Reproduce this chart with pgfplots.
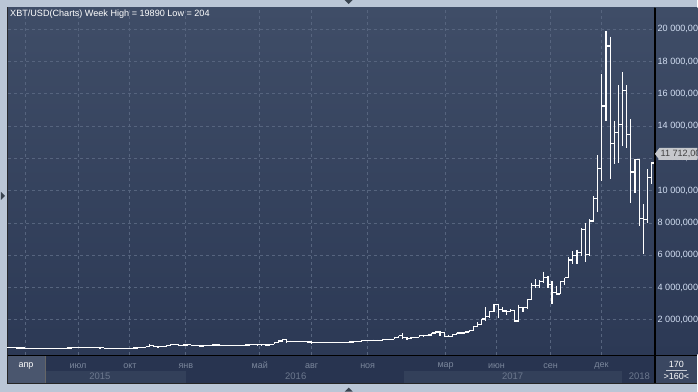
\documentclass[border=0pt]{standalone}
\usepackage{pgfplots}
\pgfplotsset{compat=1.18}
\usepackage{pgfplotstable}
\usetikzlibrary{backgrounds}
\usepackage{fontspec}
\setmainfont{Liberation Sans}
\definecolor{frame}{HTML}{BAC6D6}
\definecolor{plottop}{HTML}{3F4D67}
\definecolor{plotbot}{HTML}{2C3955}
\definecolor{band}{HTML}{283450}
\definecolor{bandlight}{HTML}{33405A}
\definecolor{aprcell}{HTML}{4A566E}
\definecolor{gridc}{HTML}{56647E}
\definecolor{monthc}{HTML}{7A869B}
\definecolor{yearc}{HTML}{6C788E}
\definecolor{labc}{HTML}{D4E0F4}
\definecolor{tagc}{HTML}{C6C8CC}
\definecolor{arrowc}{HTML}{3A4450}
\definecolor{cornerc}{HTML}{3A4761}

\pgfdeclareplotmark{ohlcL}{\pgfpathmoveto{\pgfqpoint{-2.1pt}{0pt}}\pgfpathlineto{\pgfqpoint{0pt}{0pt}}\pgfusepathqstroke}
\pgfdeclareplotmark{ohlcR}{\pgfpathmoveto{\pgfqpoint{0pt}{0pt}}\pgfpathlineto{\pgfqpoint{2.1pt}{0pt}}\pgfusepathqstroke}

\pgfplotstableread{
i o h l c
1 274 298 268 285
2 285 296 256 262
3 262 270 236 252
4 252 262 240 254
5 254 262 232 236
6 236 238 214 222
7 222 238 218 226
8 226 240 220 236
9 236 248 232 241
10 241 245 232 237
11 237 242 230 238
12 238 241 222 225
13 225 230 218 222
14 222 238 220 232
15 232 256 224 244
16 244 262 238 255
17 255 280 250 270
18 270 300 262 290
19 290 300 270 278
20 278 292 270 290
21 290 297 280 283
22 283 287 258 262
23 262 272 253 258
24 258 260 204 232
25 232 235 205 229
26 229 240 226 240
27 240 245 229 232
28 232 234 224 231
29 231 236 226 235
30 235 240 233 237
31 237 250 235 246
32 246 272 244 268
33 268 290 265 285
34 285 335 283 325
35 325 495 320 385
36 385 390 300 330
37 330 340 312 325
38 325 370 315 365
39 365 400 350 390
40 390 465 385 460
41 460 470 425 445
42 445 458 420 420
43 420 437 412 430
44 430 460 423 446
45 446 450 360 385
46 385 412 365 400
47 400 400 365 375
48 375 390 365 380
49 380 407 370 400
50 400 445 400 437
51 437 445 410 430
52 430 440 400 412
53 412 420 405 415
54 415 420 405 410
55 410 420 405 415
56 415 425 410 420
57 420 425 415 420
58 420 432 418 430
59 430 460 428 455
60 455 470 440 445
61 445 464 440 460
62 460 462 448 455
63 455 458 435 440
64 440 475 437 470
65 470 590 470 585
66 585 690 570 680
67 680 780 640 760
68 760 770 560 660
69 660 705 615 670
70 670 680 610 650
71 650 680 648 660
72 660 680 650 655
73 655 660 620 625
74 625 630 480 590
75 590 600 570 570
76 570 590 565 580
77 580 590 570 575
78 575 610 565 605
79 605 630 600 605
80 605 612 600 608
81 608 610 595 600
82 600 615 598 612
83 612 622 605 618
84 618 645 615 640
85 640 660 630 655
86 655 720 650 700
87 700 745 680 705
88 705 718 690 700
89 700 760 700 730
90 730 745 720 730
91 730 770 725 765
92 765 780 755 775
93 775 800 765 790
94 790 940 785 900
95 900 1000 880 1000
96 1000 1150 810 900
97 900 910 750 820
98 820 930 810 920
99 920 930 880 915
100 915 1030 915 1020
101 1020 1070 940 1000
102 1000 1060 990 1050
103 1050 1200 1050 1175
104 1175 1290 1150 1240
105 1240 1325 980 1230
106 1230 1250 950 960
107 960 1070 900 960
108 960 1100 940 1090
109 1090 1200 1090 1180
110 1180 1210 1160 1180
111 1180 1250 1170 1245
112 1245 1350 1240 1340
113 1340 1600 1330 1560
114 1560 1850 1550 1720
115 1720 2070 1700 2050
116 2050 2760 1900 2200
117 2200 2550 2100 2520
118 2520 2980 2500 2950
119 2950 3000 2120 2650
120 2650 2770 2480 2540
121 2540 2600 2300 2500
122 2500 2650 2470 2560
123 2560 2560 1840 1920
124 1920 2930 1900 2750
125 2750 2800 2500 2750
126 2750 3300 2650 3250
127 3250 4300 3240 4100
128 4100 4500 3950 4100
129 4100 4450 3950 4350
130 4350 4980 4300 4600
131 4600 4700 3950 4200
132 4200 4400 3000 3700
133 3700 4100 3550 3600
134 3600 4400 3600 4380
135 4380 4600 4150 4600
136 4600 5900 4600 5700
137 5700 6250 5430 6000
138 6000 6350 5450 6150
139 6150 7700 5940 7600
140 7600 8000 5600 6050
141 6050 8220 5940 8120
142 8120 9670 8100 9500
143 9500 12200 8700 11360
144 11360 17210 10590 15240
145 15240 19890 14310 18960
146 18960 19550 10700 12930
147 12930 14310 11630 13590
148 13590 16530 11730 14110
149 14110 17350 12760 16220
150 16220 16530 12660 13490
151 13490 14420 9250 11150
152 11150 11940 9870 11940
153 11940 11980 7800 8260
154 8260 9150 6050 8200
155 8200 11320 8010 10800
156 10800 11770 10390 11712
}\bars

\begin{document}
\begin{tikzpicture}[x=1pt,y=1pt]
\begin{axis}[
  at={(8pt,37pt)}, anchor=south west, scale only axis,
  width=647pt, height=347pt,
  xmin=0.82, xmax=156.68, ymin=-167, ymax=21319,
  axis line style={draw=none},
  major tick length=0pt,
  xtick={4.91,17.68,30.21,43.70,61.53,74.05,87.54,106.34,118.62,131.63,143.91},
  xticklabels={,,,,,,,,,,},
  xticklabel style={overlay},
  scaled y ticks=false,
  ytick={2000,4000,6000,8000,10000,12000,14000,16000,18000,20000},
  yticklabels={{2 000,000},{4 000,000},{6 000,000},{8 000,000},{10 000,000},{12 000,000},{14 000,000},{16 000,000},{18 000,000},{20 000,000}},
  yticklabel pos=right,
  yticklabel style={overlay, anchor=west, inner sep=0pt, xshift=3pt, text=labc, font=\fontsize{9.1}{10}\selectfont},
  grid=major,
  grid style={gridc, dash pattern=on 3pt off 3pt, line width=0.8pt},
]
\addplot[draw=none, mark=none, forget plot,
  error bars/.cd, y dir=minus, y explicit, error mark=none,
  error bar style={draw=white, solid, line width=1.2pt}]
  table[x=i, y=h, y error expr=\thisrow{h}-\thisrow{l}] {\bars};
\addplot[only marks, mark=ohlcL, mark options={draw=white, solid, line width=1.2pt}, forget plot]
  table[x=i, y=o] {\bars};
\addplot[only marks, mark=ohlcR, mark options={draw=white, solid, line width=1.2pt}, forget plot]
  table[x=i, y=c] {\bars};
\end{axis}
\begin{scope}[on background layer]
\fill[frame] (0,0) rectangle (698,392);
\fill[black!85] (7,8) rectangle (698,385);
\shade[top color=plottop, bottom color=plotbot] (8,37) rectangle (655,384);
\shade[top color=plottop, bottom color=plotbot] (656,37) rectangle (698,384);
\end{scope}
% time band
\fill[band] (8,9) rectangle (655,36);
\fill[bandlight] (45,9) rectangle (186,21);
\fill[bandlight] (404,9) rectangle (623,21);
\fill[aprcell] (8,9) rectangle (45,36);
\draw[black!60, line width=0.8pt] (45.5,9) -- (45.5,36);
% corner box
\fill[cornerc] (656,9) rectangle (698,36);
\node[text=white, font=\fontsize{9}{10}\selectfont] at (677,27) {170};
\draw[white!70!cornerc, line width=0.6pt] (667,21) -- (688,21);
\node[text=white, font=\fontsize{9}{10}\selectfont] at (677,15) {>160<};
% month labels
\begin{scope}[font=\fontsize{9}{10}\selectfont]
\node[text=white] at (26,26) {апр};
\node[text=monthc] at (78,26) {июл};
\node[text=monthc] at (130,26) {окт};
\node[text=monthc] at (186,26) {янв};
\node[text=monthc] at (260,26) {май};
\node[text=monthc] at (312,26) {авг};
\node[text=monthc] at (368,26) {ноя};
\node[text=monthc] at (446,26) {мар};
\node[text=monthc] at (497,26) {июн};
\node[text=monthc] at (551,26) {сен};
\node[text=monthc] at (602,26) {дек};
\end{scope}
\begin{scope}[font=\fontsize{9.5}{10}\selectfont, text=yearc]
\node at (100,15) {2015};
\node at (296,15) {2016};
\node at (513,15) {2017};
\node at (640,15) {2018};
\end{scope}
% frame lines
\draw[black, line width=1.2pt] (655.5,9) -- (655.5,384);
\draw[black, line width=1.2pt] (8,36.5) -- (698,36.5);
% last price tag
\fill[tagc] (655.5,238) -- (660,244) -- (698,244) -- (698,232) -- (660,232) -- cycle;
\node[overlay, anchor=west, inner sep=0pt, text=black!75, font=\fontsize{9.1}{10}\selectfont] at (661,238) {11 712,000};
% title
\node[anchor=west, inner sep=0pt, text=white, font=\fontsize{9.1}{11}\selectfont] at (10,377.5) {XBT/USD(Charts) Week High = 19890 Low = 204};
% small arrows
\fill[arrowc] (345,392) -- (353,392) -- (349,388) -- cycle;
\fill[arrowc] (345,0) -- (353,0) -- (349,4) -- cycle;
\fill[arrowc] (1,200) -- (1,192) -- (5,196) -- cycle;
\end{tikzpicture}
\end{document}
